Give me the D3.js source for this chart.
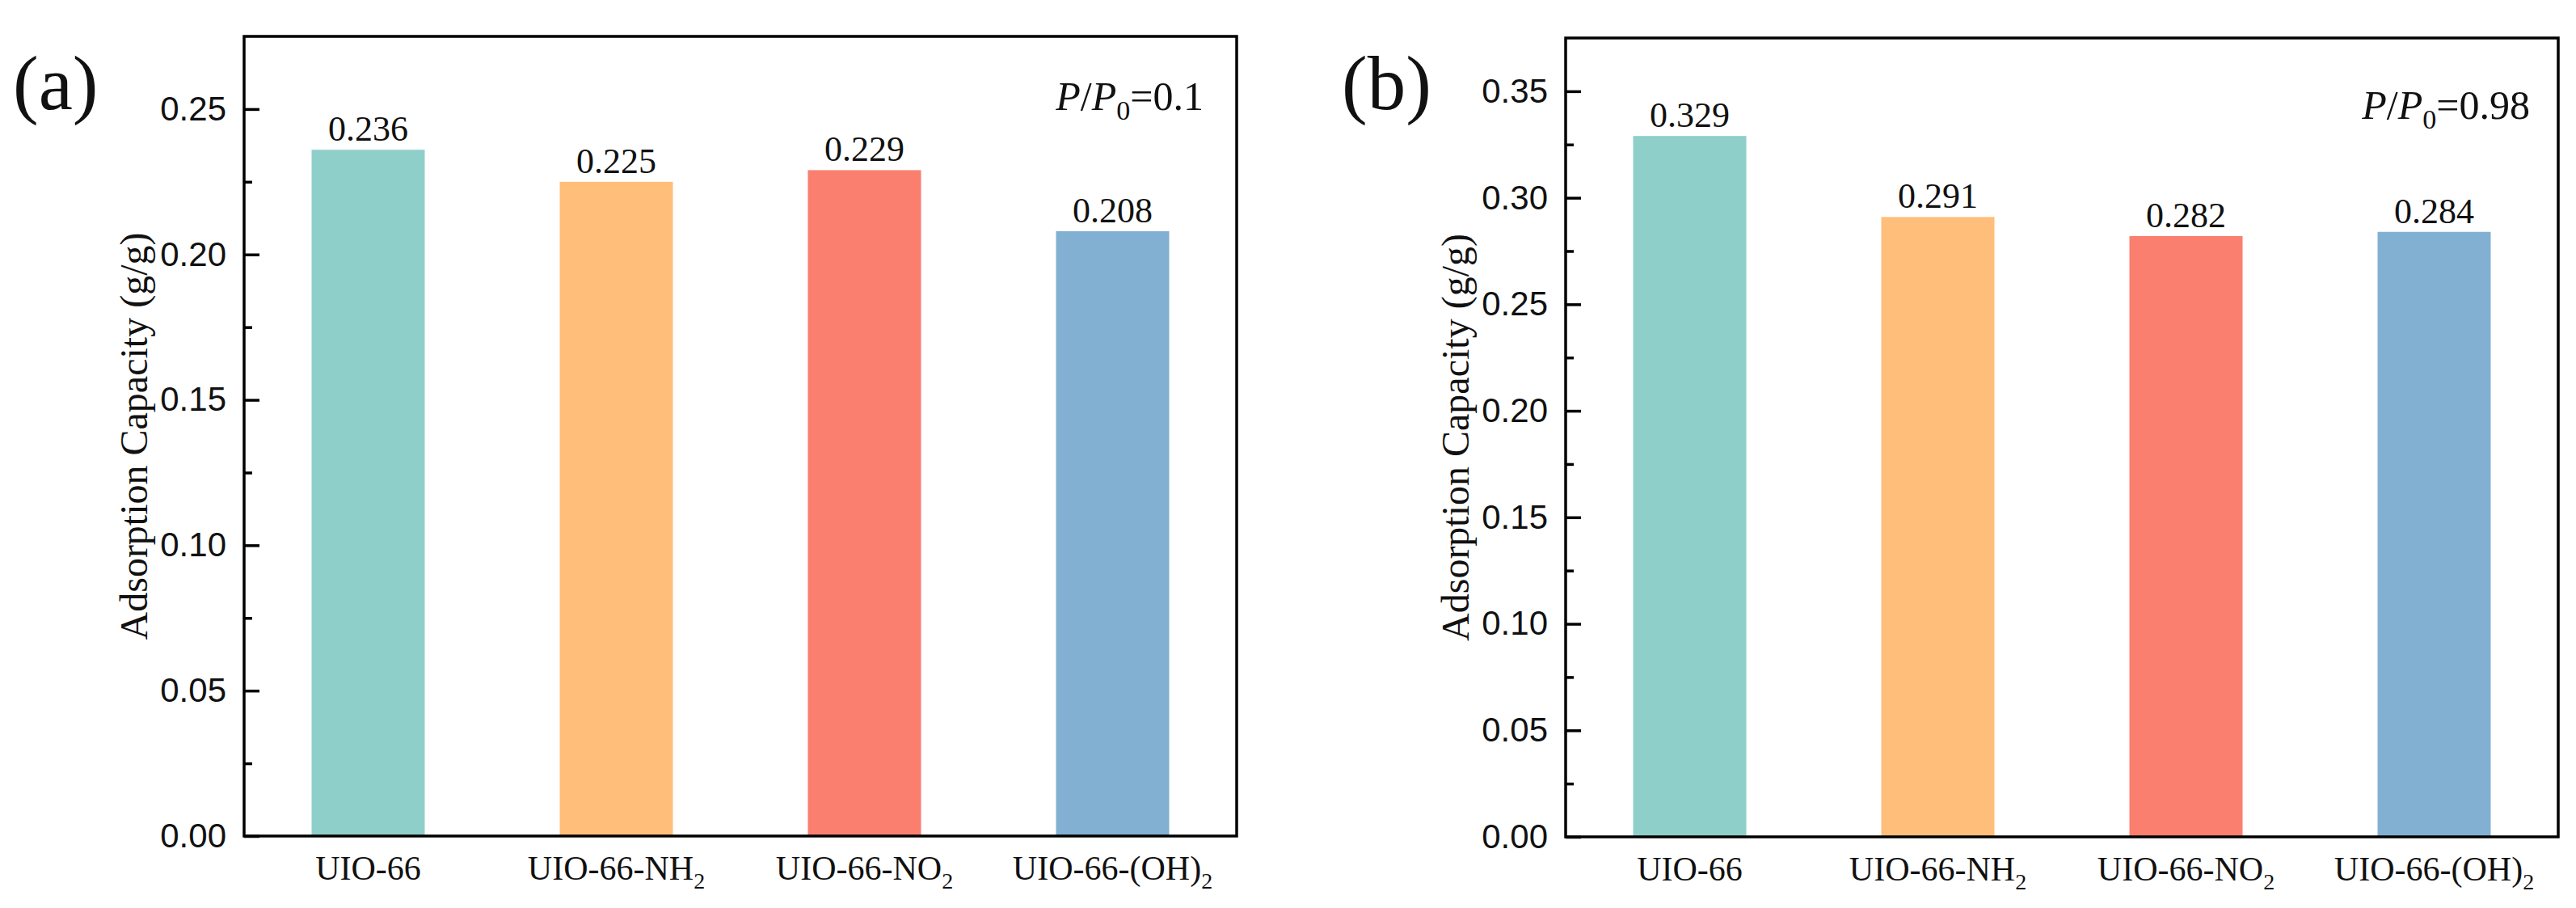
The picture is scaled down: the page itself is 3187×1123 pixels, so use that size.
<!DOCTYPE html>
<html>
<head>
<meta charset="utf-8">
<script src="https://cdn.jsdelivr.net/npm/d3@7"></script>
<style>
  html, body { margin: 0; padding: 0; background: #fff; }
  svg { display: block; }
</style>
</head>
<body>
<svg id="chart" width="3187" height="1123"></svg>
<script>
// ---- data ----
const categories = ["UIO-66", "UIO-66-NH2", "UIO-66-NO2", "UIO-66-(OH)2"];
const catMain = ["UIO-66", "UIO-66-NH", "UIO-66-NO", "UIO-66-(OH)"];
const catSub = ["", "2", "2", "2"];
const colors = ["#8ECFC9", "#FFBE7A", "#FA7F6F", "#82B0D2"];
const valuesA = [0.236, 0.225, 0.229, 0.208];
const valuesB = [0.329, 0.291, 0.282, 0.284];
const labelsA = ["0.236", "0.225", "0.229", "0.208"];
const labelsB = ["0.329", "0.291", "0.282", "0.284"];
const ticksA = [0, 0.05, 0.10, 0.15, 0.20, 0.25];
const ticksB = [0, 0.05, 0.10, 0.15, 0.20, 0.25, 0.30, 0.35];
const minorA = [0.025, 0.075, 0.125, 0.175, 0.225];
const minorB = [0.025, 0.075, 0.125, 0.175, 0.225, 0.275, 0.325];
const yMaxA = 0.275, yMaxB = 0.375;
const yTitle = "Adsorption Capacity (g/g)";

const svg = d3.select("#chart");
const SERIF = "'Liberation Serif','Times New Roman',serif";
const SANS = "'Liberation Sans',Arial,sans-serif";

function panel(opt) {
  const g = svg.append("g");
  const x = d3.scalePoint().domain(categories).range([opt.left, opt.right]).padding(0.5);
  const y = d3.scaleLinear().domain([0, opt.yMax]).range([opt.bottom, opt.top]);
  const bw = 140;

  // bars
  g.selectAll("rect.bar").data(categories).join("rect")
    .attr("class", "bar")
    .attr("x", d => x(d) - bw / 2)
    .attr("width", bw)
    .attr("y", (d, i) => y(opt.values[i]))
    .attr("height", (d, i) => y(0) - y(opt.values[i]))
    .attr("fill", (d, i) => colors[i]);

  // value labels
  g.selectAll("text.val").data(categories).join("text")
    .attr("class", "val")
    .attr("x", d => x(d))
    .attr("y", (d, i) => y(opt.values[i]) - 11)
    .attr("text-anchor", "middle")
    .attr("font-family", SERIF)
    .attr("font-size", 44)
    .attr("fill", "#111")
    .text((d, i) => opt.labels[i]);

  // y axis major
  const ax = d3.axisLeft(y).tickValues(opt.ticks).tickFormat(d3.format(".2f"))
    .tickSizeInner(-19).tickSizeOuter(0).tickPadding(22);
  const ag = g.append("g").attr("transform", `translate(${opt.left},0)`).call(ax);
  ag.select(".domain").remove();
  ag.selectAll(".tick line").attr("stroke", "#000").attr("stroke-width", 3.5);
  ag.selectAll(".tick text").attr("font-family", SANS).attr("font-size", 42).attr("fill", "#111");

  // y axis minor
  const mx = d3.axisLeft(y).tickValues(opt.minor).tickFormat("").tickSizeInner(-10).tickSizeOuter(0);
  const mg = g.append("g").attr("transform", `translate(${opt.left},0)`).call(mx);
  mg.select(".domain").remove();
  mg.selectAll(".tick line").attr("stroke", "#000").attr("stroke-width", 3.5);

  // x category labels
  const xl = g.selectAll("text.cat").data(categories).join("text")
    .attr("class", "cat")
    .attr("x", d => x(d))
    .attr("y", opt.bottom + 54)
    .attr("text-anchor", "middle")
    .attr("font-family", SERIF)
    .attr("font-size", 42)
    .attr("fill", "#111");
  xl.append("tspan").text((d, i) => catMain[i]);
  xl.filter((d, i) => catSub[i] !== "").append("tspan")
    .attr("font-size", 28).attr("dy", 11).text((d, i) => catSub[categories.indexOf(d)]);

  // frame
  g.append("rect")
    .attr("x", opt.left).attr("y", opt.top)
    .attr("width", opt.right - opt.left).attr("height", opt.bottom - opt.top)
    .attr("fill", "none").attr("stroke", "#000").attr("stroke-width", 3.5);

  // y title
  g.append("text")
    .attr("transform", `translate(${opt.left - 120},${(opt.top + opt.bottom) / 2}) rotate(-90)`)
    .attr("text-anchor", "middle")
    .attr("font-family", SERIF)
    .attr("font-size", 48)
    .attr("fill", "#111")
    .text(yTitle);

  // panel letter
  g.append("text")
    .attr("x", opt.letterX).attr("y", 135)
    .attr("font-family", SERIF).attr("font-size", 95).attr("fill", "#111")
    .text(opt.letter);

  // P/P0 annotation
  const t = g.append("text")
    .attr("x", opt.right - opt.annoGap).attr("y", opt.annoY)
    .attr("text-anchor", "end")
    .attr("font-family", SERIF).attr("font-size", 50).attr("fill", "#111");
  t.append("tspan").attr("font-style", "italic").text("P");
  t.append("tspan").text("/");
  t.append("tspan").attr("font-style", "italic").text("P");
  t.append("tspan").attr("font-size", 34).attr("dy", 12).text("0");
  t.append("tspan").attr("dy", -12).text("=" + opt.anno);
}

panel({ left: 302, right: 1530, top: 45, bottom: 1034, yMax: yMaxA, values: valuesA, labels: labelsA,
  ticks: ticksA, minor: minorA, letter: "(a)", letterX: 16, anno: "0.1", annoGap: 41, annoY: 136 });
panel({ left: 1937, right: 3165, top: 47, bottom: 1035, yMax: yMaxB, values: valuesB, labels: labelsB,
  ticks: ticksB, minor: minorB, letter: "(b)", letterX: 1660, anno: "0.98", annoGap: 35, annoY: 147 });
</script>
</body>
</html>
